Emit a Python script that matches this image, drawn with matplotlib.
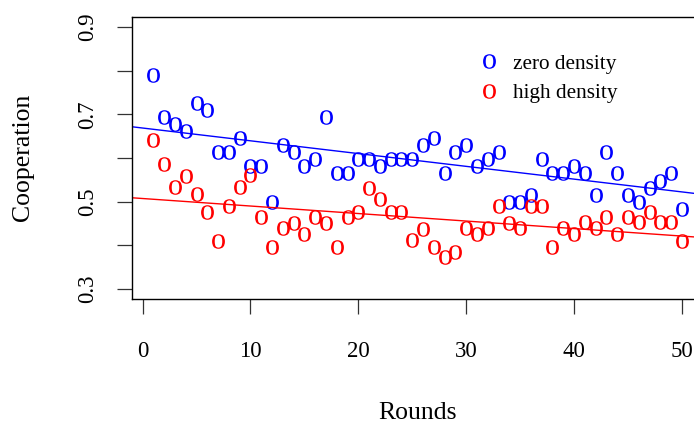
import numpy as np
import matplotlib
matplotlib.use("Agg")
import matplotlib.pyplot as plt
from matplotlib.lines import Line2D

rounds = list(range(1, 51))
zero_density = [0.790, 0.694, 0.677, 0.661, 0.726, 0.710, 0.613, 0.613, 0.645, 0.581,
                0.581, 0.500, 0.629, 0.613, 0.581, 0.597, 0.694, 0.565, 0.565, 0.597,
                0.597, 0.581, 0.597, 0.597, 0.597, 0.629, 0.645, 0.565, 0.613, 0.629,
                0.581, 0.597, 0.613, 0.500, 0.500, 0.516, 0.597, 0.565, 0.565, 0.581,
                0.565, 0.516, 0.613, 0.565, 0.516, 0.500, 0.532, 0.548, 0.565, 0.484]
high_density = [0.642, 0.587, 0.533, 0.559, 0.518, 0.477, 0.410, 0.491, 0.533, 0.560,
                0.464, 0.397, 0.439, 0.452, 0.426, 0.464, 0.452, 0.397, 0.464, 0.477,
                0.532, 0.506, 0.477, 0.477, 0.411, 0.438, 0.397, 0.373, 0.384, 0.439,
                0.426, 0.439, 0.491, 0.452, 0.439, 0.491, 0.491, 0.397, 0.439, 0.426,
                0.453, 0.439, 0.464, 0.426, 0.464, 0.453, 0.477, 0.453, 0.453, 0.410]
x_ticks = [0, 10, 20, 30, 40, 50]
y_ticks = [0.3, 0.4, 0.5, 0.6, 0.7, 0.8, 0.9]
y_ticklabels = ["0.3", "", "0.5", "", "0.7", "", "0.9"]

plt.rcParams['font.family'] = ['Liberation Serif', 'DejaVu Serif']
plt.rcParams['mathtext.fontset'] = 'custom'
plt.rcParams['mathtext.rm'] = 'Liberation Serif'

o_marker = r'$\mathrm{o}$'
msize = 10.5

fig = plt.figure(figsize=(6.94, 4.23), dpi=100)
ax = fig.add_axes([132.3 / 694, 123.7 / 423, (703.0 - 132.3) / 694, (406.3 - 123.7) / 423])

ax.plot(rounds, zero_density, linestyle='none', marker=o_marker, markersize=msize,
        markerfacecolor='#0000ff', markeredgecolor='#0000ff', markeredgewidth=0)
ax.plot(rounds, high_density, linestyle='none', marker=o_marker, markersize=msize,
        markerfacecolor='#ff0000', markeredgecolor='#ff0000', markeredgewidth=0)

xlim = (-0.96, 51.96)
xs = np.array(xlim)
for vals, col in ((zero_density, '#0000ff'), (high_density, '#ff0000')):
    b, a = np.polyfit(rounds, vals, 1)
    ax.plot(xs, a + b * xs, color=col, lw=1.0)

ax.set_xlim(*xlim)
ax.set_ylim(0.276, 0.924)
ax.set_xticks(x_ticks)
ax.set_yticks(y_ticks)
ax.set_yticklabels(y_ticklabels, rotation=90, va='center')
ax.tick_params(axis='both', direction='out', length=10.8, width=0.9, labelsize=16.5, color='#333333')
ax.tick_params(axis='x', pad=19)
ax.tick_params(axis='y', pad=14)
for s in ax.spines.values():
    s.set_linewidth(1.0)

fig.text(418 / 694, 1 - 413 / 423, "Rounds", ha='center', va='center', fontsize=18.5)
fig.text(23 / 694, 1 - 157.5 / 423, "Cooperation", ha='center', va='center', rotation=90, fontsize=18.5)

handles = [Line2D([], [], linestyle='none', marker=o_marker, markersize=msize, markerfacecolor=c,
                  markeredgecolor=c, markeredgewidth=0) for c in ('#0000ff', '#ff0000')]
ax.legend(handles, ["zero density", "high density"], loc='upper left',
          bbox_to_anchor=(478 / 694, 1 - 54 / 423), bbox_transform=fig.transFigure,
          frameon=False, fontsize=15.3, handlelength=1.0, handletextpad=0.65,
          borderpad=0, borderaxespad=0, labelspacing=0.45)

fig.savefig("out.png", dpi=100)
